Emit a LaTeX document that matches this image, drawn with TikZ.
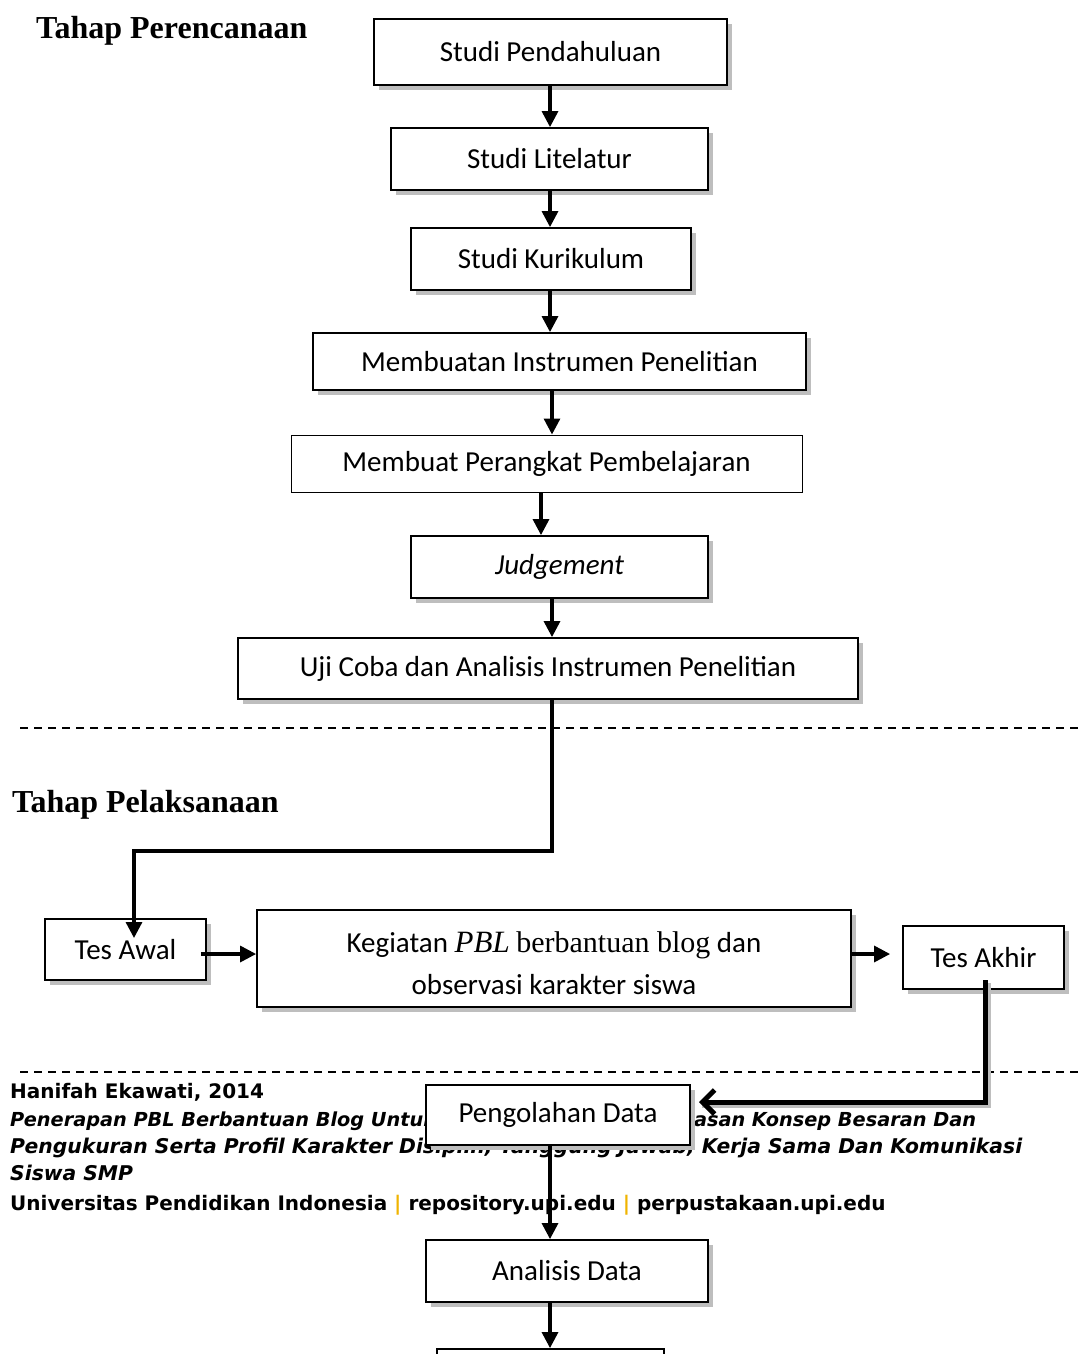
\documentclass[tikz,border=0pt]{standalone}
\usepackage{fontspec}
\setmainfont{Carlito}
\newfontfamily\tnr{Liberation Serif}
\newfontfamily\dvs{DejaVu Sans}
\usetikzlibrary{shadows,arrows.meta}
\definecolor{sepgold}{RGB}{240,180,0}
\definecolor{shadowgray}{RGB}{190,190,190}
\begin{document}
\begin{tikzpicture}[x=1pt,y=-1pt,
  boxtxt/.style={font=\fontsize{29}{35}\selectfont},
  box/.style={draw, line width=1.8pt, fill=white, inner sep=0pt, boxtxt,
    drop shadow={shadow xshift=5pt, shadow yshift=-5pt, fill=shadowgray, opacity=1}},
  thinbox/.style={draw, line width=1pt, fill=white, inner sep=0pt, boxtxt},
  arr/.style={line width=3.2pt, -{Triangle[length=16pt,width=16pt]}},
  sepline/.style={line width=1.5pt, dash pattern=on 8pt off 6pt},
  heading/.style={anchor=base west, inner sep=0pt, font=\tnr\bfseries\fontsize{32}{38}\selectfont},
  foot/.style={anchor=base west, inner sep=0pt, font=\dvs\bfseries\fontsize{20}{24}\selectfont},
  footit/.style={foot, font=\dvs\bfseries\itshape\fontsize{20.3}{24}\selectfont}
]
\fill[white] (0,0) rectangle (1078,1354);
\useasboundingbox (0,0) rectangle (1078,1354);
\clip (0,0) rectangle (1078,1354);

% headings
\node[heading] (h1) at (36,38) {Tahap Perencanaan};
\node[heading] (h2) at (12,812) {Tahap Pelaksanaan};

% separators
\coordinate (s1a) at (20,728); \coordinate (s1b) at (1078,728);
\coordinate (s2a) at (20,1072); \coordinate (s2b) at (1078,1072);
\draw[sepline] (s1a) -- (s1b);
\draw[sepline] (s2a) -- (s2b);

% footer
\node[foot] (f1) at (10,1098) {Hanifah Ekawati, 2014};
\node[footit, font=\dvs\bfseries\itshape\fontsize{19.3}{24}\selectfont] (f2) at (10,1126) {Penerapan PBL Berbantuan Blog Untuk Meningkatkan\hspace{21.5pt} Penguasan Konsep Besaran Dan};
\node[footit] (f3) at (10,1153) {Pengukuran Serta Profil Karakter Disiplin, Tanggung Jawab, Kerja Sama Dan Komunikasi};
\node[footit] (f4) at (10,1180) {Siswa SMP};
\node[foot] (f5) at (10,1210) {Universitas Pendidikan Indonesia \textcolor{sepgold}{\textbar} repository.upi.edu \textcolor{sepgold}{\textbar} perpustakaan.upi.edu};

% boxes
\node[box, minimum width=353pt, minimum height=66pt] (b1) at (550.5,52) {Studi Pendahuluan};
\node[box, minimum width=317pt, minimum height=62pt] (b2) at (549.5,159) {Studi Litelatur};
\node[box, minimum width=280pt, minimum height=62pt] (b3) at (551,259) {Studi Kurikulum};
\node[box, minimum width=493pt, minimum height=57pt] (b4) at (559.5,361.5) {Membuatan Instrumen Penelitian};
\node[thinbox, minimum width=511pt, minimum height=57pt] (b5) at (546.5,463.5) {Membuat Perangkat Pembelajaran};
\node[box, minimum width=297pt, minimum height=62pt] (b6) at (559.5,567) {\itshape Judgement};
\node[box, minimum width=620pt, minimum height=61pt] (b7) at (548,668.5) {Uji Coba dan Analisis Instrumen Penelitian};
\node[box, minimum width=161pt, minimum height=61pt] (tesawal) at (125.5,949.5) {Tes Awal};
\node[box, minimum width=594pt, minimum height=97pt, align=center,
  font=\fontsize{29}{42}\selectfont] (keg) at (554,958.5)
  {\rule{0pt}{30pt}Kegiatan {\tnr\itshape\fontsize{31}{42}\selectfont PBL} {\tnr\fontsize{30}{42}\selectfont berbantuan blog} dan\\observasi karakter siswa};
\node[box, minimum width=161pt, minimum height=63pt] (tesakhir) at (983.5,957.5) {Tes Akhir};
\node[box, minimum width=264pt, minimum height=60pt] (peng) at (558,1115) {Pengolahan Data};
\node[box, minimum width=282pt, minimum height=62pt] (anal) at (567,1271) {Analisis Data};
\node[box, minimum width=227pt, minimum height=61pt] (last) at (550.5,1379.5) {};

% vertical arrows of planning stage
\draw[arr] ([xshift=-0.5pt]b1.south) -- ([xshift=0.5pt]b2.north);
\draw[arr] ([xshift=0.5pt]b2.south) -- ([xshift=-1pt]b3.north);
\draw[arr] ([xshift=-1pt]b3.south) -- ([xshift=-9.5pt]b4.north);
\draw[arr] ([xshift=-7.5pt]b4.south) -- ([xshift=5.5pt]b5.north);
\draw[arr] ([xshift=-5.5pt]b5.south) -- ([xshift=-18.5pt]b6.north);
\draw[arr] ([xshift=-7.5pt]b6.south) -- ([xshift=4pt]b7.north);

% to Tes Awal
\coordinate (k1) at (552,851);
\coordinate (k2) at (134,851);
\coordinate (k3) at (134,938);
\draw[arr, line join=miter] ([xshift=4pt]b7.south) -- (k1) -- (k2) -- (k3);

% horizontal arrows
\draw[arr] ([xshift=-6pt,yshift=-4.5pt]tesawal.east) -- ([yshift=4.5pt]keg.west);
\draw[arr] ([yshift=4.5pt]keg.east) -- ([xshift=-12pt,yshift=3.5pt]tesakhir.west);

% Tes Akhir to Pengolahan Data
\coordinate (m1) at (985,1102);
\coordinate (m2) at (699,1102);
\draw[line width=5pt, draw=shadowgray, line join=miter] ([xshift=4.5pt,yshift=-25.5pt]tesakhir.center) -- ([xshift=3pt,yshift=-3pt]m1) -- ([xshift=3pt,yshift=-3pt]m2);
\draw[line width=5pt, line join=miter, -{Straight Barb[length=12pt,width=24pt,line width=5pt]}] ([xshift=1.5pt,yshift=-22.5pt]tesakhir.center) -- (m1) -- (m2);

% lower vertical arrows
\draw[arr] ([xshift=-8pt]peng.south) -- ([xshift=-17pt]anal.north);
\draw[arr] ([xshift=-17pt]anal.south) -- ([xshift=-0.5pt]last.north);
\end{tikzpicture}
\end{document}
